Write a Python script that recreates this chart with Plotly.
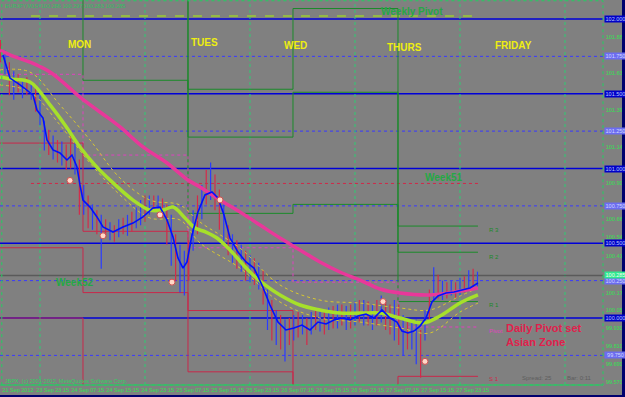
import plotly.graph_objects as go

# ---------------- data (x = trading hours since Mon 24 Sep 00:00, y = EURJPY price) -------------
# fast line (blue)
FAST_H = [-8.46,-6.86,-4.57,-1.6,-0.69,0.69,1.6,2.97,4.57,6.17,7.31,8.46,9.14,9.83,11.43,13.03,14.4,16.69,
          18.97,21.26,23.54,25.83,27.43,29.03,30.4,31.54,32.69,33.6,34.74,36.11,37.71,39.31,40.69,42.06,43.43,
          45.26,47.09,48.91,50.74,52.57,54.4,56.23,58.06,59.89,61.71,63.54,65.37,67.2,69.03,70.86,72.69,74.51,
          76.34,78.17,80.0,81.6,82.74,84.11,85.49,86.86,88.23,89.6,90.97,92.8,94.63,96.46,98.29,100.11]
FAST_P = [101.759,101.605,101.559,101.492,101.391,101.338,101.191,101.124,101.104,101.057,101.090,101.010,
          100.890,100.789,100.742,100.676,100.609,100.575,100.609,100.635,100.676,100.736,100.742,100.656,
          100.542,100.401,100.334,100.375,100.555,100.709,100.823,100.843,100.803,100.689,100.535,100.441,
          100.375,100.334,100.221,100.087,99.973,99.920,99.933,99.953,99.920,99.973,99.960,99.987,100.000,
          99.987,100.013,100.027,100.000,100.054,100.000,99.973,99.913,99.900,99.913,99.946,100.000,100.107,
          100.147,100.167,100.174,100.187,100.201,100.234]
# slow moving average (pink)
SLOW_H = [-9.14,-5.71,-2.29,2.29,9.14,13.71,18.29,23.54,29.03,33.83,36.57,41.14,45.71,50.29,54.86,59.43,
          64.0,68.57,73.14,77.71,82.29,89.14,96.0,100.11]
SLOW_P = [101.793,101.746,101.712,101.645,101.478,101.378,101.278,101.144,101.037,100.923,100.876,100.789,
          100.709,100.622,100.535,100.455,100.375,100.308,100.254,100.194,100.167,100.154,100.181,100.201]
# medium moving average (yellow-green)
MID_H = [-9.14,-6.86,-2.29,2.29,5.71,9.14,12.57,16.0,21.26,25.14,28.11,30.4,33.14,35.43,37.94,40.46,43.43,48.0,
         51.43,54.86,59.43,64.0,68.57,73.14,77.71,82.29,87.54,91.43,96.0,100.11]
MID_P = [101.612,101.599,101.579,101.425,101.291,101.144,101.023,100.923,100.789,100.722,100.722,100.742,
         100.669,100.602,100.575,100.535,100.455,100.308,100.221,100.154,100.087,100.054,100.033,100.033,
         100.033,100.000,99.967,100.013,100.100,100.154]
# envelope around the medium average (dotted yellow)
ENV_H = [-9.14,-2.29,4.57,11.43,18.29,25.14,32.0,36.57,45.71,54.86,64.0,73.14,82.29,89.14,96.0,100.11]
ENV_UP = [101.659,101.645,101.425,101.191,100.936,100.789,100.756,100.642,100.468,100.221,100.120,100.100,
          100.067,100.054,100.147,100.201]
ENV_DN = [101.559,101.512,101.291,101.037,100.823,100.669,100.656,100.502,100.334,100.107,100.000,99.973,
          99.933,99.900,100.040,100.100]

# hourly bars
BAR_H = list(range(-9, 101))
BAR_HIGH = [101.86,101.79,101.71,101.65,101.63,101.59,101.61,101.58,101.56,101.49,
            101.32,101.26,101.22,101.19,101.18,101.16,101.24,101.19,101.06,100.89,
            100.82,100.76,100.72,100.69,100.66,100.64,100.62,100.66,100.67,100.69,
            100.71,100.74,100.79,100.82,100.82,100.82,100.82,100.80,100.76,100.69,
            100.56,100.49,100.45,100.52,100.72,100.82,100.89,100.99,101.04,100.96,
            100.86,100.76,100.62,100.56,100.52,100.49,100.45,100.42,100.40,100.37,
            100.32,100.19,100.12,100.05,100.02,99.99,100.00,100.02,100.04,100.02,
            100.00,100.04,100.05,100.04,100.05,100.07,100.08,100.09,100.09,100.08,
            100.09,100.11,100.12,100.12,100.11,100.09,100.12,100.15,100.12,100.09,
            100.12,100.09,100.02,99.99,99.99,99.99,99.92,100.05,100.19,100.34,
            100.29,100.25,100.24,100.25,100.24,100.27,100.28,100.32,100.33,100.31]
BAR_LOW = [101.71,101.63,101.49,101.46,101.51,101.47,101.49,101.46,101.38,101.29,
           101.12,101.09,101.06,101.04,101.02,100.99,101.00,100.96,100.69,100.69,
           100.60,100.59,100.56,100.33,100.54,100.52,100.51,100.54,100.56,100.55,
           100.58,100.60,100.62,100.64,100.69,100.71,100.70,100.67,100.49,100.35,
           100.25,100.17,100.15,100.25,100.45,100.56,100.66,100.76,100.79,100.72,
           100.59,100.49,100.42,100.37,100.33,100.31,100.25,100.24,100.22,100.19,
           100.09,99.92,99.85,99.82,99.79,99.71,99.82,99.85,99.87,99.89,
           99.82,99.89,99.92,99.91,99.89,99.92,99.93,99.93,99.95,99.92,
           99.93,99.95,99.97,99.95,99.95,99.92,99.95,99.97,99.92,99.89,
           99.85,99.82,99.75,99.79,99.79,99.69,99.60,99.85,99.99,100.12,
           100.13,100.12,100.13,100.15,100.13,100.15,100.17,100.19,100.20,100.21]
BAR_DIR = ("rbrbrbrbrb" "brbrbrrbrb" "rbrbrbrbrb" "rbbrbrbrrb" "rbbrbrbrbr" "rbrbrbrbrb"
           "rbrbrbrbrb" "rbrbrbrbrb" "rbrbrbrbrr" "brbrbbrbrb" "rbrbrbrbrb")

# daily pivot sets (Asian zone sessions)
DAY_EDGES = [-9.14, 9.83, 33.83, 57.83, 81.83, 100.11]
R3 = [103.00, 102.70, 101.53, 102.07, 100.615]
R2 = [102.60, 102.25, 101.21, 101.51, 100.44]
R1 = [102.20, 101.59, 100.70, 100.76, 100.11]
PIV = [101.63, 101.09, 100.47, 100.24, 99.94]
S1 = [101.17, 100.58, 100.05, 99.43, 99.61]
S2 = [100.47, 100.17, 99.64, 98.90, 99.30]
S3 = [100.00, 99.40, 99.20, 98.50, 99.00]

# weekly levels
WEEK_H = [-2.06, 100.11]
WEEKLY_PIVOT = 102.02
WEEK51 = 100.90

ROUND_LEVELS = [102.0, 101.5, 101.0, 100.5, 100.0]
QUARTER_LEVELS = [101.75, 101.25, 100.75, 100.25, 99.75]
BID = 100.285
MIDNIGHTS = [0, 24, 48, 72, 96, 120]

MARK_H = [6.86, 14.4, 27.43, 41.14, 30.17, 78.4, 88.0]
MARK_P = [100.92, 100.55, 100.69, 100.79, 100.24, 100.11, 99.71]

X_TICKS = [-8.7, -0.75, 7.25, 15.25, 23.25, 31.25, 39.25, 47.25, 55.25, 63.25, 71.25, 79.25, 87.25, 95.25]
X_LABELS = ["21 Sep 2012", "23 Sep 23:15", "24 Sep 07:15", "24 Sep 15:15", "24 Sep 23:15", "25 Sep 07:15",
            "25 Sep 15:15", "25 Sep 23:15", "26 Sep 07:15", "26 Sep 15:15", "26 Sep 23:15", "27 Sep 07:15",
            "27 Sep 15:15", "27 Sep 23:15"]
Y_TICKS = [101.880, 101.635, 101.390, 101.145, 100.900, 100.664, 100.540, 100.415, 100.170, 100.050,
           99.930, 99.810, 99.690, 99.570]

DAY_NAMES = ["MON", "TUES", "WED", "THURS", "FRIDAY"]
DAY_NAME_H = [9.14, 37.7, 58.5, 83.4, 108.3]
DAY_NAME_P = [101.83, 101.845, 101.82, 101.81, 101.82]

X_RANGE = [-9.14, 128.69]
Y_RANGE = [99.552, 102.127]

FONT = "Liberation Sans, Arial, sans-serif"
BG = "#808080"

fig = go.Figure()

# horizontal round-number lines
shapes = []
for lv in ROUND_LEVELS:
    shapes.append(dict(type="line", xref="paper", x0=0, x1=1, yref="y", y0=lv, y1=lv,
                       line=dict(color="#0000d8", width=1.3), layer="below"))
for lv in QUARTER_LEVELS:
    shapes.append(dict(type="line", xref="paper", x0=0, x1=1, yref="y", y0=lv, y1=lv,
                       line=dict(color="#3838ff", width=1, dash="dot"), layer="below"))
for h in MIDNIGHTS:
    shapes.append(dict(type="line", xref="x", x0=h, x1=h, yref="paper", y0=0, y1=1,
                       line=dict(color="#2ecc71", width=1, dash="dot"), layer="below"))
shapes.append(dict(type="line", xref="paper", x0=0, x1=1, yref="y", y0=BID, y1=BID,
                   line=dict(color="#5a5a5a", width=1.5), layer="below"))
# frame
shapes.append(dict(type="rect", xref="paper", yref="paper", x0=0.003, x1=1, y0=0, y1=0.998,
                   line=dict(color="#20d060", width=1, dash="dot")))
shapes.append(dict(type="line", xref="paper", yref="paper", x0=0, x1=1, y0=0, y1=0,
                   line=dict(color="#20d060", width=1)))
# navy window edges
shapes.append(dict(type="rect", xref="paper", yref="paper", x0=622/603, x1=626/603, y0=-13/385, y1=1.01,
                   line=dict(width=0), fillcolor="#00006e"))
shapes.append(dict(type="rect", xref="paper", yref="paper", x0=-0.01, x1=626/603, y0=-13/385, y1=-10/385,
                   line=dict(width=0), fillcolor="#00006e"))

# weekly levels
fig.add_trace(go.Scatter(x=WEEK_H, y=[WEEKLY_PIVOT, WEEKLY_PIVOT], mode="lines",
                         line=dict(color="#9acd32", width=1.5, dash="dash"), hoverinfo="skip"))
fig.add_trace(go.Scatter(x=WEEK_H, y=[WEEK51, WEEK51], mode="lines",
                         line=dict(color="#d02848", width=1, dash="dot"), hoverinfo="skip"))

# daily pivot steps
def step(vals, color, dash="solid", width=1):
    fig.add_trace(go.Scatter(x=DAY_EDGES, y=vals + [vals[-1]], mode="lines", line_shape="hv",
                             line=dict(color=color, width=width, dash=dash), hoverinfo="skip"))

for lv in (R3, R2, R1):
    step(lv, "#1b8a2a")
step(PIV, "#e040c0", dash="dot")
for lv in (S1, S2, S3):
    step(lv, "#c8284a")

# bars
for code, col in (("r", "#d42a4a"), ("b", "#2a3cff")):
    xs, ys = [], []
    for h, hi, lo, d in zip(BAR_H, BAR_HIGH, BAR_LOW, BAR_DIR):
        if d == code:
            xs += [h, h, None]
            ys += [lo, hi, None]
    fig.add_trace(go.Scatter(x=xs, y=ys, mode="lines", line=dict(color=col, width=1.2), hoverinfo="skip"))

# envelopes and moving averages
for env in (ENV_UP, ENV_DN):
    fig.add_trace(go.Scatter(x=ENV_H, y=env, mode="lines", line_shape="spline",
                             line=dict(color="#d8c830", width=1, dash="dot"), hoverinfo="skip"))
fig.add_trace(go.Scatter(x=SLOW_H, y=SLOW_P, mode="lines", line_shape="spline",
                         line=dict(color="#e8389a", width=3.5), hoverinfo="skip"))
fig.add_trace(go.Scatter(x=MID_H, y=MID_P, mode="lines", line_shape="spline",
                         line=dict(color="#a6e02a", width=3.5), hoverinfo="skip"))
fig.add_trace(go.Scatter(x=FAST_H, y=FAST_P, mode="lines",
                         line=dict(color="#0010ff", width=1.6), hoverinfo="skip"))
fig.add_trace(go.Scatter(x=MARK_H, y=MARK_P, mode="markers",
                         marker=dict(size=6, color="#ffd8c8", line=dict(color="#d05050", width=1)),
                         hoverinfo="skip"))

# annotations
ann = []
def txt(x, y, t, color, size, xanchor="center", xref="x", yref="y", bold=False, yanchor="middle"):
    ann.append(dict(x=x, y=y, xref=xref, yref=yref, text=("<b>%s</b>" % t) if bold else t,
                    showarrow=False, xanchor=xanchor, yanchor=yanchor,
                    font=dict(family=FONT, size=size, color=color)))

for name, h, p in zip(DAY_NAMES, DAY_NAME_H, DAY_NAME_P):
    txt(h, p, name, "#eeee10", 10, bold=True)
txt(85.0, 102.05, "Weekly Pivot", "#25a845", 10, bold=True)
txt(92.3, 100.94, "Week51", "#25a845", 10, bold=True)
txt(8.0, 100.24, "Week52", "#25a845", 10, bold=True)
txt(102.2, 100.59, "R 3", "#1b8a2a", 6, xanchor="left")
txt(102.2, 100.41, "R 2", "#1b8a2a", 6, xanchor="left")
txt(102.2, 100.09, "R 1", "#1b8a2a", 6, xanchor="left")
txt(102.2, 99.91, "Pivot", "#e040c0", 6, xanchor="left")
txt(102.2, 99.59, "S 1", "#d02848", 6, xanchor="left")
txt(106.1, 99.93, "Daily Pivot set", "#e0204c", 11, xanchor="left", bold=True)
txt(106.1, 99.84, "Asian Zone", "#e0204c", 11, xanchor="left", bold=True)
txt(3/603, 1 - 6/385, "EURJPY,M15  100.286 100.297 100.283 100.285", "#30c060", 5.5,
    xanchor="left", xref="paper", yref="paper")
txt(3/603, 4/385, "JBPX, (c) 2001-2012, MetaQuotes Software Corp.", "#30d060", 5.5,
    xanchor="left", xref="paper", yref="paper")
txt(520/603, 7/385, "Spread: 25", "#5e5e5e", 6, xanchor="left", xref="paper", yref="paper")
txt(565/603, 7/385, "Bar: 0:11", "#5e5e5e", 6, xanchor="left", xref="paper", yref="paper")

# boxed price labels on the price scale
def box(y, t, bg, fg):
    ann.append(dict(x=1, y=y, xref="paper", yref="y", text=t, showarrow=False, xanchor="left",
                    yanchor="middle", xshift=1, bgcolor=bg, borderpad=0, width=21,
                    font=dict(family=FONT, size=5.5, color=fg)))
for lv in ROUND_LEVELS:
    box(lv, "%.3f" % lv, "#0000c8", "#b8c8ff")
for lv in QUARTER_LEVELS:
    box(lv, "%.3f" % lv, "#6c6cf0", "#d0d8ff")
box(BID, "%.3f" % BID, "#30e890", "#f0fff0")

fig.update_layout(
    width=625, height=397, margin=dict(l=0, r=22, t=0, b=12),
    paper_bgcolor=BG, plot_bgcolor=BG, showlegend=False,
    shapes=shapes, annotations=ann,
    font=dict(family=FONT),
    xaxis=dict(range=X_RANGE, showgrid=False, zeroline=False, tickvals=X_TICKS, ticktext=X_LABELS,
               tickfont=dict(size=5.5, color="#30e050", family=FONT), ticks="", ticklabelshift=16,
               ticklabelstandoff=0, fixedrange=True),
    yaxis=dict(range=Y_RANGE, side="right", showgrid=False, zeroline=False, tickvals=Y_TICKS,
               ticktext=["%.3f" % v for v in Y_TICKS], ticks="",
               tickfont=dict(size=5.5, color="#30e050", family=FONT), ticklabelstandoff=2, fixedrange=True),
)

fig.write_html("out.html")
